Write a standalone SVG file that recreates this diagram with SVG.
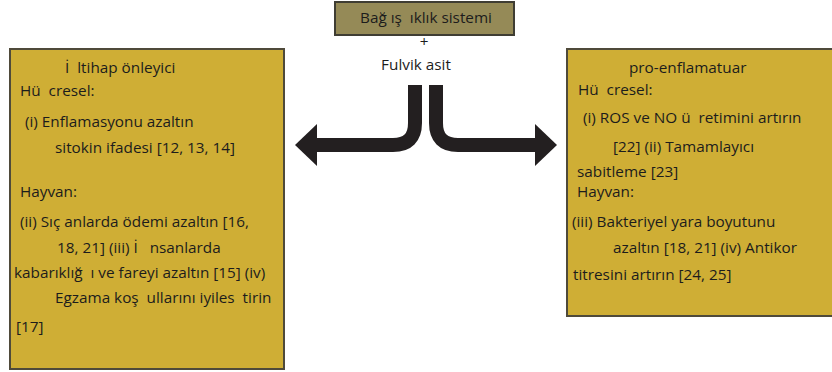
<svg xmlns="http://www.w3.org/2000/svg" width="832" height="372" viewBox="0 0 832 372">
<style>
text{font-family:"Open Sans","Noto Sans","DejaVu Sans",sans-serif;font-size:15.3px;fill:#1c1c1c;white-space:pre}
.gold{fill:#cfae35;stroke:#4f4a3a;stroke-width:2}
.olive{fill:#958a57;stroke:#3f3d33;stroke-width:2}
.conn{fill:none;stroke:#231f20;stroke-width:14}
</style>
<defs>
<marker id="ah" viewBox="0 -21 22 42" markerWidth="22" markerHeight="42" refX="1" refY="0" markerUnits="userSpaceOnUse" orient="auto">
<path d="M0,-21 L22,0 L0,21 z" fill="#231f20"/>
</marker>
</defs>
<rect width="832" height="372" fill="#fff"/>
<g id="top">
<rect class="olive" x="335" y="2" width="179" height="33"/>
<text x="426" y="23" text-anchor="middle">Bağ ış  ıklık sistemi</text>
<text x="424" y="47" text-anchor="middle">+</text>
<text x="416" y="70" text-anchor="middle">Fulvik asit</text>
</g>
<g id="connectors">
<path class="conn" d="M415,85 V123 Q415,145 393,145 H316" marker-end="url(#ah)"/>
<path class="conn" d="M436,85 V123 Q436,145 458,145 H536" marker-end="url(#ah)"/>
</g>
<g id="left">
<rect class="gold" x="10" y="49" width="274" height="320"/>
<text x="65" y="73">İ  ltihap önleyici</text>
<text x="20" y="96">Hü  cresel:</text>
<text x="25" y="127">(i) Enflamasyonu azaltın</text>
<text x="55" y="153">sitokin ifadesi [12, 13, 14]</text>
<text x="20" y="197">Hayvan:</text>
<text x="20" y="227">(ii) Sıç anlarda ödemi azaltın [16,</text>
<text x="57" y="253">18, 21] (iii) İ   nsanlarda</text>
<text x="14" y="278">kabarıklığ  ı ve fareyi azaltın [15] (iv)</text>
<text x="55" y="303">Egzama koş  ullarını iyiles  tirin</text>
<text x="16" y="332">[17]</text>
</g>
<g id="right">
<rect class="gold" x="567" y="49" width="270" height="267"/>
<text x="629" y="73">pro-enflamatuar</text>
<text x="578" y="95">Hü  cresel:</text>
<text x="583" y="123">(i) ROS ve NO ü  retimini artırın</text>
<text x="613" y="152">[22] (ii) Tamamlayıcı</text>
<text x="577" y="177">sabitleme [23]</text>
<text x="577" y="197">Hayvan:</text>
<text x="572" y="227">(iii) Bakteriyel yara boyutunu</text>
<text x="613" y="253">azaltın [18, 21] (iv) Antikor</text>
<text x="573" y="280">titresini artırın [24, 25]</text>
</g>
</svg>
